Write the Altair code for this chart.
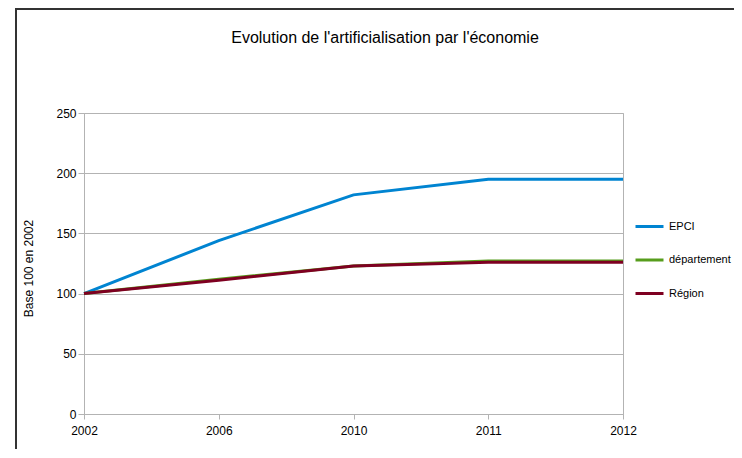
import altair as alt
import pandas as pd

years = ["2002", "2006", "2010", "2011", "2012"]
epci = [100, 144, 182, 195, 195]
departement = [100, 112, 123, 127, 127]
region = [100, 111, 123, 126, 126]

series_names = ["EPCI", "département", "Région"]
series_colors = ["#0084d1", "#579d1c", "#7e0021"]
y_ticks = [0, 50, 100, 150, 200, 250]
title_text = "Evolution de l'artificialisation par l'économie"

rows = []
for name, vals in zip(series_names, [epci, departement, region]):
    for yr, v in zip(years, vals):
        rows.append({"annee": yr, "valeur": v, "serie": name})
df = pd.DataFrame(rows)

FONT = "Liberation Sans"
GRID = "#b3b3b3"

lines = alt.Chart(df).mark_line(strokeWidth=3).encode(
    x=alt.X("annee:O", sort=years,
            scale=alt.Scale(type="point", padding=0),
            axis=alt.Axis(title=None, labelAngle=0, labelFont=FONT, labelFontSize=12,
                          labelColor="#000000", tickColor=GRID, tickSize=5,
                          domainColor=GRID, labelPadding=6, grid=False)),
    y=alt.Y("valeur:Q",
            scale=alt.Scale(domain=[0, 250], nice=False),
            axis=alt.Axis(title="Base 100 en 2002", values=y_ticks,
                          labelFont=FONT, labelFontSize=12, labelColor="#000000",
                          tickColor=GRID, tickSize=6, labelPadding=2,
                          domainColor=GRID, gridColor=GRID,
                          titleFont=FONT, titleFontSize=12, titleFontWeight="normal",
                          titleColor="#000000", titleX=-56, titleY=155,
                          titleAngle=270, titleBaseline="middle", titleAlign="center")),
    color=alt.Color("serie:N",
                    scale=alt.Scale(domain=series_names, range=series_colors),
                    legend=alt.Legend(title=None, orient="none", legendX=550, legendY=98,
                                      symbolType="stroke", symbolSize=784,
                                      symbolStrokeWidth=3, labelFont=FONT,
                                      labelFontSize=11, labelColor="#000000",
                                      labelOffset=4, rowPadding=11.5, labelLimit=200)),
    order=alt.Order("serie:N"),
)

title = alt.Chart(alt.Data(values=[{"t": title_text}])).mark_text(
    font=FONT, fontSize=16, color="#000000", align="center", baseline="middle"
).encode(text="t:N", x=alt.value(301), y=alt.value(-75))

frame_v = alt.Chart(alt.Data(values=[{}])).mark_rule(color="#333333", strokeWidth=2).encode(
    x=alt.value(-68), y=alt.value(-106), y2=alt.value(336))
frame_h = alt.Chart(alt.Data(values=[{}])).mark_rule(color="#333333", strokeWidth=2).encode(
    x=alt.value(-68), x2=alt.value(660), y=alt.value(-104))

chart = alt.layer(lines, title, frame_v, frame_h).properties(
    width=539, height=301,
    autosize=alt.AutoSizeParams(type="none"),
    padding={"left": 76, "top": 105, "right": 111, "bottom": 36},
).configure_view(stroke=GRID, strokeWidth=1)

chart.save("out.html", embed_options={"renderer": "svg", "actions": False})
